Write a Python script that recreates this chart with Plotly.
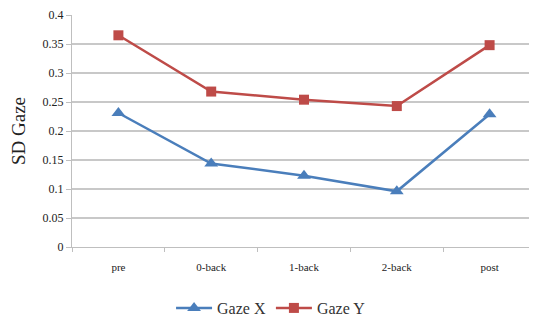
import plotly.graph_objects as go

categories = ["pre", "0-back", "1-back", "2-back", "post"]
gaze_x = [0.231, 0.144, 0.123, 0.096, 0.229]
gaze_y = [0.365, 0.268, 0.254, 0.243, 0.348]
y_ticks = [0, 0.05, 0.1, 0.15, 0.2, 0.25, 0.3, 0.35, 0.4]
y_tick_labels = ["0", "0.05", "0.1", "0.15", "0.2", "0.25", "0.3", "0.35", "0.4"]

serif = "Liberation Serif, Times New Roman, serif"

fig = go.Figure()
fig.add_trace(go.Scatter(
    x=categories, y=gaze_x, name="Gaze X", mode="lines+markers",
    line=dict(color="#4A7EBB", width=2.5),
    marker=dict(symbol="triangle-up", size=12, color="#4A7EBB"),
))
fig.add_trace(go.Scatter(
    x=categories, y=gaze_y, name="Gaze Y", mode="lines+markers",
    line=dict(color="#BE4B48", width=2.5),
    marker=dict(symbol="square", size=10, color="#BE4B48"),
))

fig.update_layout(
    width=529, height=312,
    margin=dict(l=64, r=1, t=7, b=73, autoexpand=False),
    paper_bgcolor="white", plot_bgcolor="white",
    font=dict(family=serif, color="#222222", size=11),
    showlegend=True,
    legend=dict(orientation="h", x=0.429, xanchor="center",
                y=-0.263, yanchor="middle",
                font=dict(size=16, family=serif, color="#333333"),
                itemwidth=36, tracegroupgap=0),
    xaxis=dict(
        type="category", range=[-0.5, 4.5],
        showgrid=False, showline=True, linecolor="#BFBFBF", linewidth=1,
        ticks="outside", tickson="boundaries", ticklen=4, tickcolor="#BFBFBF",
        tickfont=dict(size=11, family=serif), zeroline=False,
        ticklabelstandoff=10,
    ),
    yaxis=dict(
        range=[0, 0.4], tickvals=y_ticks, ticktext=y_tick_labels,
        showgrid=True, gridcolor="#C8C8C8", gridwidth=1.5,
        showline=True, linecolor="#BFBFBF", linewidth=1,
        ticks="outside", ticklen=5, tickcolor="#BFBFBF",
        tickfont=dict(size=12, family=serif), zeroline=False,
        title=dict(text="SD Gaze", font=dict(size=19, family=serif), standoff=14),
    ),
)

fig.write_html("out.html")
